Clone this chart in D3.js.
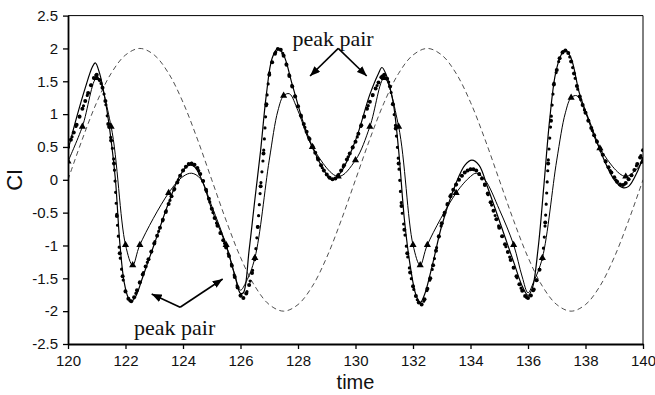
<!DOCTYPE html>
<html>
<head>
<meta charset="utf-8">
<script src="https://cdn.jsdelivr.net/npm/d3@7/dist/d3.min.js"></script>
<style>
  html, body { margin: 0; padding: 0; background: #ffffff; }
  svg { display: block; }
</style>
</head>
<body>
<svg id="chart" width="655" height="395"></svg>
<script>
// ---- axis ticks ----
const timeTicks = [120, 122, 124, 126, 128, 130, 132, 134, 136, 138, 140];
const ciTicks = [-2.5, -2, -1.5, -1, -0.5, 0, 0.5, 1, 1.5, 2, 2.5];

// ---- forcing (dashed), sampled every 0.5 time units from t = 120 ----
const forcingStart = 120;
const forcingStep = 0.5;
const forcing = [
  0, 0.62, 1.18, 1.62, 1.90, 2.00, 1.90, 1.62, 1.18, 0.62,
  0, -0.62, -1.18, -1.62, -1.90, -2.00, -1.90, -1.62, -1.18, -0.62,
  0, 0.62, 1.18, 1.62, 1.90, 2.00, 1.90, 1.62, 1.18, 0.62,
  0, -0.62, -1.18, -1.62, -1.90, -2.00, -1.90, -1.62, -1.18, -0.62,
  0
];

// ---- CI series drawn with dot markers, sampled every 0.1 from t = 120 ----
const dotStart = 120;
const dotStep = 0.1;
const dotSeries = [
  0.50, 0.61, 0.72, 0.84, 0.96, 1.08, 1.20, 1.32, 1.44, 1.55,
  1.60, 1.52, 1.40, 1.20, 0.85, 0.60, 0.25, -0.55, -1.12, -1.47,
  -1.70, -1.81, -1.85, -1.79, -1.68, -1.56, -1.44, -1.32, -1.21, -1.09,
  -0.97, -0.85, -0.73, -0.61, -0.49, -0.37, -0.25, -0.14, -0.04, 0.06,
  0.14, 0.20, 0.24, 0.25, 0.23, 0.18, 0.09, -0.02, -0.15, -0.29,
  -0.44, -0.58, -0.70, -0.81, -0.92, -1.03, -1.16, -1.31, -1.48, -1.64,
  -1.76, -1.80, -1.73, -1.60, -1.42, -1.19, -0.72, -0.10, 0.40, 1.15,
  1.60, 1.79, 1.92, 1.99, 1.98, 1.89, 1.75, 1.58, 1.42, 1.27,
  1.12, 0.98, 0.85, 0.73, 0.62, 0.51, 0.41, 0.31, 0.22, 0.14,
  0.08, 0.03, 0.01, 0.02, 0.07, 0.14, 0.22, 0.31, 0.40, 0.49,
  0.58, 0.70, 0.83, 0.96, 1.08, 1.19, 1.29, 1.39, 1.48, 1.56,
  1.60, 1.54, 1.42, 1.15, 0.78, 0.25, -0.40, -0.76, -1.12, -1.41,
  -1.62, -1.77, -1.87, -1.90, -1.82, -1.66, -1.50, -1.30, -1.08, -0.86,
  -0.66, -0.50, -0.37, -0.25, -0.15, -0.07, 0.00, 0.06, 0.11, 0.14,
  0.16, 0.16, 0.14, 0.09, 0.02, -0.08, -0.21, -0.34, -0.47, -0.60,
  -0.73, -0.86, -0.98, -1.10, -1.22, -1.34, -1.47, -1.59, -1.69, -1.77,
  -1.80, -1.76, -1.67, -1.53, -1.37, -1.20, -0.65, 0.25, 0.90, 1.45,
  1.67, 1.85, 1.94, 1.97, 1.93, 1.80, 1.62, 1.43, 1.27, 1.14,
  1.02, 0.90, 0.79, 0.68, 0.58, 0.48, 0.38, 0.28, 0.19, 0.11,
  0.04, -0.03, -0.07, -0.08, -0.05, 0.01, 0.07, 0.15, 0.24, 0.34,
  0.45
];

// ---- CI series drawn as a plain thin line ----
const modelTimes = [
  120.0, 120.3, 120.6, 120.85, 120.95, 121.1, 121.3, 121.5, 121.65, 121.8,
  121.95, 122.1, 122.2, 122.35, 122.6, 123.0, 123.5, 123.9, 124.2, 124.4,
  124.7, 125.0, 125.5, 125.8, 126.0, 126.1, 126.3, 126.5, 126.7, 126.9,
  127.1, 127.3, 127.5, 127.8, 128.2, 128.6, 129.0, 129.2, 129.5, 130.0,
  130.5, 130.8, 130.92, 131.05, 131.3, 131.5, 131.7, 131.9, 132.1, 132.25,
  132.4, 132.7, 133.0, 133.5, 133.8, 134.05, 134.3, 134.6, 135.0, 135.5,
  135.8, 136.0, 136.15, 136.35, 136.55, 136.75, 136.95, 137.15, 137.3, 137.5,
  137.8, 138.2, 138.6, 139.0, 139.3, 139.5, 139.8, 140.0
];
const modelValues = [
  0.45, 0.95, 1.40, 1.72, 1.78, 1.62, 1.20, 0.60, 0.00, -0.95,
  -1.55, -1.80, -1.85, -1.78, -1.48, -0.98, -0.35, 0.07, 0.22, 0.20,
  -0.05, -0.45, -1.00, -1.45, -1.73, -1.72, -1.07, -0.30, 0.45, 1.30,
  1.85, 2.00, 1.90, 1.45, 0.85, 0.40, 0.08, 0.00, 0.12, 0.60,
  1.30, 1.62, 1.71, 1.62, 1.20, 0.45, -0.60, -1.30, -1.75, -1.87,
  -1.75, -1.25, -0.70, -0.05, 0.22, 0.30, 0.22, -0.12, -0.62, -1.25,
  -1.62, -1.76, -1.65, -1.05, -0.10, 0.90, 1.60, 1.90, 1.98, 1.85,
  1.30, 0.82, 0.35, 0.00, -0.12, -0.10, 0.12, 0.35
];

// ---- CI series drawn as a thin line with triangle markers ----
const triTimes = [
  120.0, 120.5, 121.0, 121.5, 122.0, 122.25, 122.5, 123.5, 124.0, 124.3,
  124.6, 125.0, 125.5, 125.8, 126.0, 126.2, 126.5, 127.0, 127.3, 127.5,
  127.7, 128.0, 128.5, 129.4, 130.0, 130.5, 131.0, 131.5, 132.0, 132.25,
  132.5, 133.5, 134.0, 134.2, 134.5, 135.0, 135.5, 135.8, 136.0, 136.2,
  136.5, 137.0, 137.3, 137.5, 137.7, 138.0, 138.5, 139.4, 140.0
];
const triValues = [
  0.28, 0.81, 1.55, 0.81, -0.99, -1.30, -0.99, -0.20, 0.05, 0.10,
  0.02, -0.40, -0.99, -1.45, -1.68, -1.55, -1.19, 0.30, 1.05, 1.28,
  1.31, 1.05, 0.50, 0.05, 0.30, 0.81, 1.55, 0.81, -0.99, -1.30,
  -0.99, -0.20, 0.05, 0.10, 0.00, -0.45, -0.99, -1.48, -1.72, -1.55,
  -1.19, 0.30, 1.02, 1.25, 1.28, 1.02, 0.48, 0.05, 0.28
];
// sample times that carry a triangle marker
const triMarked = [
  120.0, 120.5, 121.0, 121.5, 122.0, 122.25, 122.5, 123.5, 125.5, 126.5,
  127.5, 128.5, 129.4, 130.0, 130.5, 131.0, 131.5, 132.0, 132.25, 132.5,
  133.5, 135.5, 136.5, 137.5, 138.5, 139.4, 140.0
];

// ---- annotation labels ----
const noteText = "peak pair";

// ---------------------------------------------------------------
const svg = d3.select("#chart");
const W = 655, H = 395;
const margin = { left: 68, right: 12, top: 15.6, bottom: 51 };

const x = d3.scaleLinear().domain([120, 140]).range([margin.left, W - margin.right]);
const y = d3.scaleLinear().domain([-2.5, 2.5]).range([H - margin.bottom, margin.top]);

const forcingPts = forcing.map((v, i) => [forcingStart + i * forcingStep, v]);
const dotPts = dotSeries.map((v, i) => [dotStart + i * dotStep, v]);
const modelPts = modelTimes.map((t, i) => [t, modelValues[i]]);
const triPts = triTimes.map((t, i) => [t, triValues[i]]);
const triMarkPts = triPts.filter(p => triMarked.includes(p[0]));

const clipId = "plotClip";
svg.append("defs").append("clipPath").attr("id", clipId)
  .append("rect")
  .attr("x", x(120)).attr("y", y(2.5))
  .attr("width", x(140) - x(120)).attr("height", y(-2.5) - y(2.5));

const plot = svg.append("g").attr("clip-path", `url(#${clipId})`);

const lineOf = curve => d3.line().x(d => x(d[0])).y(d => y(d[1])).curve(curve);

// dashed forcing
plot.append("path")
  .datum(forcingPts)
  .attr("d", lineOf(d3.curveCatmullRom.alpha(0.5)))
  .attr("fill", "none")
  .attr("stroke", "#222")
  .attr("stroke-width", 0.8)
  .attr("stroke-dasharray", "5,3.5");

// thin line series
plot.append("path")
  .datum(modelPts)
  .attr("d", lineOf(d3.curveCatmullRom.alpha(0.5)))
  .attr("fill", "none")
  .attr("stroke", "#000")
  .attr("stroke-width", 1.2);

// triangle series line
plot.append("path")
  .datum(triPts)
  .attr("d", lineOf(d3.curveCatmullRom.alpha(0.5)))
  .attr("fill", "none")
  .attr("stroke", "#000")
  .attr("stroke-width", 1);

// dotted series: dotted trace plus a marker at each sample
plot.append("path")
  .datum(dotPts)
  .attr("d", lineOf(d3.curveMonotoneX))
  .attr("fill", "none")
  .attr("stroke", "#000")
  .attr("stroke-width", 3.2)
  .attr("stroke-linecap", "round")
  .attr("stroke-dasharray", "0,11");

plot.append("g").selectAll("circle")
  .data(dotPts)
  .join("circle")
  .attr("cx", d => x(d[0]))
  .attr("cy", d => y(d[1]))
  .attr("r", 2)
  .attr("fill", "#000");

// triangle markers
plot.append("g").selectAll("path")
  .data(triMarkPts)
  .join("path")
  .attr("transform", d => `translate(${x(d[0])},${y(d[1])})`)
  .attr("d", d3.symbol(d3.symbolTriangle).size(22))
  .attr("fill", "#000");

// ---- frame ----
svg.append("line")
  .attr("x1", x(120)).attr("x2", x(140)).attr("y1", y(2.5)).attr("y2", y(2.5))
  .attr("stroke", "#000").attr("stroke-width", 1);
svg.append("line")
  .attr("x1", x(140)).attr("x2", x(140)).attr("y1", y(2.5)).attr("y2", y(-2.5))
  .attr("stroke", "#000").attr("stroke-width", 1);

// ---- axes ----
const fontSans = "'Liberation Sans', Arial, Helvetica, sans-serif";
const fontSerif = "'Liberation Serif', 'Times New Roman', Times, serif";

const xAxis = svg.append("g")
  .attr("transform", `translate(0,${y(-2.5)})`)
  .call(d3.axisBottom(x).tickValues(timeTicks).tickSize(5).tickSizeOuter(0).tickPadding(6)
    .tickFormat(d => String(d)));
const yAxis = svg.append("g")
  .attr("transform", `translate(${x(120)},0)`)
  .call(d3.axisLeft(y).tickValues(ciTicks).tickSize(5).tickSizeOuter(0).tickPadding(5)
    .tickFormat(d => String(d)));

[xAxis, yAxis].forEach(g => {
  g.select(".domain").attr("stroke", "#000").attr("stroke-width", 1.8);
  g.selectAll(".tick line").attr("stroke", "#000").attr("stroke-width", 1.3);
  g.selectAll(".tick text")
    .attr("fill", "#111")
    .style("font-family", fontSans)
    .style("font-size", "15px");
});

// axis titles
svg.append("text")
  .attr("x", (x(120) + x(140)) / 2)
  .attr("y", 389)
  .attr("text-anchor", "middle")
  .style("font-family", fontSans)
  .style("font-size", "20px")
  .attr("fill", "#111")
  .text("time");

svg.append("text")
  .attr("transform", `translate(22,${y(0)}) rotate(-90)`)
  .attr("text-anchor", "middle")
  .style("font-family", fontSans)
  .style("font-size", "22px")
  .attr("fill", "#111")
  .text("CI");

// ---- annotations ----
const defs = svg.select("defs");
defs.append("marker")
  .attr("id", "arrowHead")
  .attr("viewBox", "0 0 10 8")
  .attr("refX", 10).attr("refY", 4)
  .attr("markerWidth", 10).attr("markerHeight", 8)
  .attr("markerUnits", "userSpaceOnUse")
  .attr("orient", "auto")
  .append("path")
  .attr("d", "M0,0 L10,4 L0,8 Z")
  .attr("fill", "#000");

const notes = [
  { label: [129.22, 2.03], apex: [129.4, 2.0], tips: [[128.42, 1.58], [130.39, 1.58]] },
  { label: [123.71, -2.37], apex: [123.9, -1.94], tips: [[122.91, -1.74], [125.38, -1.51]] }
];

notes.forEach(n => {
  svg.append("text")
    .attr("x", x(n.label[0]))
    .attr("y", y(n.label[1]))
    .attr("text-anchor", "middle")
    .style("font-family", fontSerif)
    .style("font-size", "22px")
    .attr("fill", "#111")
    .text(noteText);
  n.tips.forEach(t => {
    svg.append("line")
      .attr("x1", x(n.apex[0])).attr("y1", y(n.apex[1]))
      .attr("x2", x(t[0])).attr("y2", y(t[1]))
      .attr("stroke", "#000")
      .attr("stroke-width", 1.6)
      .attr("marker-end", "url(#arrowHead)");
  });
});
</script>
</body>
</html>
